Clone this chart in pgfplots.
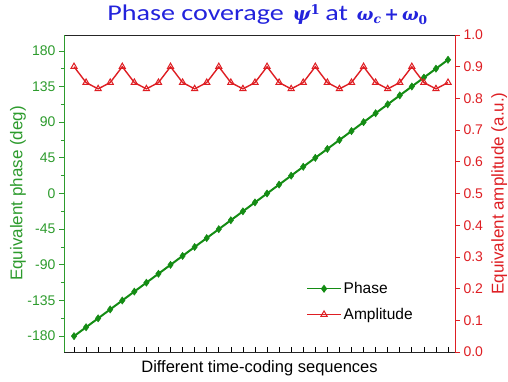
\documentclass[border=0pt]{standalone}
\usepackage{pgfplots}
\pgfplotsset{compat=1.18}
\usepackage{fontspec}
\setmainfont{Liberation Sans}
\newfontfamily\titlefont{Carlito}
\newfontfamily\gfont{DejaVu Serif}
\definecolor{pgreen}{RGB}{20,140,20}
\definecolor{tgreen}{RGB}{45,155,45}
\definecolor{pred}{RGB}{222,30,35}
\definecolor{tblue}{RGB}{35,35,220}
\pgfplotstableread{
x y
1 -180
2 -168.75
3 -157.5
4 -146.25
5 -135
6 -123.75
7 -112.5
8 -101.25
9 -90
10 -78.75
11 -67.5
12 -56.25
13 -45
14 -33.75
15 -22.5
16 -11.25
17 0
18 11.25
19 22.5
20 33.75
21 45
22 56.25
23 67.5
24 78.75
25 90
26 101.25
27 112.5
28 123.75
29 135
30 146.25
31 157.5
32 168.75
}\phasedata
\pgfplotstableread{
x y
1 0.90
2 0.85
3 0.83
4 0.85
5 0.90
6 0.85
7 0.83
8 0.85
9 0.90
10 0.85
11 0.83
12 0.85
13 0.90
14 0.85
15 0.83
16 0.85
17 0.90
18 0.85
19 0.83
20 0.85
21 0.90
22 0.85
23 0.83
24 0.85
25 0.90
26 0.85
27 0.83
28 0.85
29 0.90
30 0.85
31 0.83
32 0.85
}\ampdata
\begin{document}
\begin{tikzpicture}
\path[use as bounding box] (0pt,0pt) rectangle (508pt,381pt);
\pgfplotsset{
  common/.style={
    at={(64pt,29pt)}, anchor=south west,
    width=391pt, height=317pt, scale only axis,
    xmin=0.17, xmax=32.58,
    major tick length=5pt, minor tick length=3pt,
    /pgf/number format/assume math mode=true,
    tick label style={font=\fontsize{14}{16}\selectfont},
  }
}
% bottom x axis with inward ticks
\begin{axis}[common,
  ymin=0, ymax=1,
  axis y line=none, axis x line*=bottom,
  xtick={1,...,32}, xticklabels={},
  tick align=inside,
  x axis line style={black, line width=0.8pt},
  xtick style={black, line width=0.7pt},
  xlabel={Different time-coding sequences},
  xlabel style={font=\fontsize{16.5}{18}\selectfont, at={(axis description cs:0.5,-0.05)}, anchor=center},
]
\end{axis}
% title
\node[text=tblue, anchor=base, inner sep=0pt] at (267.5pt,360pt)
  {\fontsize{22.5}{26}\selectfont\titlefont\scalebox{1.25}[1]{Phase coverage}\,
   {\gfont\fontsize{19}{23}\selectfont\bfseries\itshape ψ\textsuperscript{\upshape 1}}
   \scalebox{1.25}[1]{at}\,
   {\gfont\fontsize{17.5}{21}\selectfont\bfseries\itshape ω\textsubscript{c}\,{\upshape +}\,ω\textsubscript{\upshape 0}}};
% phase axis
\begin{axis}[common,
  ymin=-200, ymax=200,
  axis x line*=box, axis y line*=left,
  xtick=\empty,
  x axis line style={black!85, line width=0.8pt},
  ytick={-180,-135,...,180},
  minor y tick num=1,
  tick align=outside,
  y axis line style={tgreen, line width=0.8pt},
  ytick style={tgreen, line width=0.7pt},
  minor y tick style={tgreen},
  yticklabel style={text=tgreen},
  ylabel={Equivalent phase (deg)},
  ylabel style={font=\fontsize{17}{19}\selectfont, text=tgreen, at={(axis description cs:-0.1176,0.5)}, anchor=center},
]
\addplot[pgreen, line width=2pt, mark=diamond*, mark size=3.6pt, mark options={solid, fill=pgreen, draw=pgreen, line width=0.5pt}] table[x=x,y=y] {\phasedata};
\end{axis}
% amplitude axis
\begin{axis}[common,
  ymin=0, ymax=1,
  axis x line=none, axis y line*=right,
  ytick={0,0.1,...,1.0},
  yticklabel style={text=pred, /pgf/number format/.cd, fixed, fixed zerofill, precision=1},
  tick align=outside,
  y axis line style={pred, line width=0.8pt},
  ytick style={pred, line width=0.7pt},
  ylabel={Equivalent amplitude (a.u.)},
  ylabel style={font=\fontsize{17}{19}\selectfont, text=pred, at={(axis description cs:1.113,0.5)}, anchor=center},
  legend style={draw=none, fill=none, at={(0.905,0.085)}, anchor=south east, font=\fontsize{15.5}{17}\selectfont, row sep=9pt},
  legend cell align=left,
  legend image code/.code={\draw[mark repeat=2,mark phase=2,#1] plot coordinates {(0pt,0pt) (17pt,0pt) (34pt,0pt)};},
]
\addlegendimage{pgreen, line width=1.4pt, mark=diamond*, mark size=3pt, mark options={solid, fill=pgreen, draw=pgreen}}
\addlegendentry{Phase}
\addplot[pred, line width=1.4pt, mark=triangle, mark size=3.6pt, mark options={solid, fill=white, draw=pred, line width=1pt}] table[x=x,y=y] {\ampdata};
\addlegendentry{Amplitude}
\end{axis}
\end{tikzpicture}
\end{document}
